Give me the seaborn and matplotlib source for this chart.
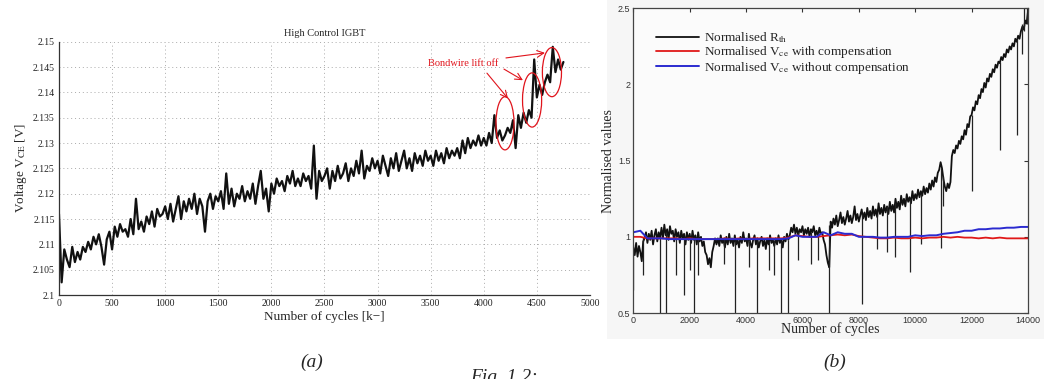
import numpy as np
import pandas as pd
import matplotlib
matplotlib.use("Agg")
import matplotlib.pyplot as plt
from matplotlib.patches import Ellipse, Rectangle
import seaborn as sns

# ---- Panel (a): V_CE of the high control IGBT, one value every 25 k-cycles ----
# values are given in mV above 2.100 V
a_step = 25
a_mv = [
    16.0, 2.5, 9.0, 7.0, 5.5, 9.5, 6.5, 8.5, 7.0, 9.5,
    8.5, 10.5, 9.0, 11.5, 10.0, 12.0, 9.5, 6.0, 11.0, 12.5,
    9.0, 13.5, 11.5, 14.0, 12.5, 13.0, 11.5, 15.0, 12.0, 19.0,
    13.0, 14.5, 12.5, 15.5, 14.0, 16.5, 13.5, 17.0, 15.5, 16.0,
    17.5, 15.0, 18.0, 14.5, 17.0, 19.5, 15.0, 18.5, 16.5, 19.0,
    17.0, 20.0, 16.0, 19.0, 17.5, 12.5, 18.5, 20.0, 17.0, 19.5,
    18.5, 20.5, 17.0, 24.0, 18.0, 21.0, 17.5, 20.0, 19.0, 21.5,
    18.5, 20.5, 19.0, 22.0, 18.0, 21.5, 24.5, 19.0, 21.0, 16.5,
    22.0, 20.0, 23.0, 21.5, 22.5, 20.5, 23.5, 22.0, 24.5, 21.5,
    23.0, 21.5, 24.0, 22.5, 23.5, 21.0, 29.5, 19.0, 24.5, 22.5,
    23.5, 25.0, 21.0, 24.5, 22.5, 25.5, 23.0, 24.0, 26.0, 22.5,
    25.0, 23.5, 26.5, 24.0, 28.5, 23.0, 25.5, 24.5, 27.0, 25.0,
    26.5, 24.0, 27.5, 25.5, 23.5, 27.0, 25.0, 28.0, 24.5, 26.5,
    28.5, 25.0, 27.0, 24.5, 28.0, 26.0, 27.5, 25.5, 28.5, 26.5,
    27.5, 25.5, 28.5, 26.5, 28.0, 26.0, 29.0, 27.0, 28.5, 27.5,
    29.0, 27.0, 30.5, 28.0, 31.0, 29.0, 30.5, 29.5, 31.5, 29.5,
    31.0, 29.5, 32.0, 30.0, 35.5, 31.0, 32.5, 30.5, 31.5, 33.0,
    32.0, 34.5, 29.0, 35.5, 33.0, 36.0, 34.0, 36.5, 35.0, 46.5,
    39.0, 41.5, 39.5, 42.0, 43.5, 42.0, 49.0, 44.0, 46.5, 44.5,
    46.0,
]
a_cycles = np.arange(len(a_mv)) * a_step
a_volts = 2.1 + np.array(a_mv) / 1000.0

# ellipses marking the bondwire lift-off steps: centre x, centre y, width, height
lift_x = [4200, 4455, 4642]
lift_y = [2.1339, 2.1385, 2.1440]
lift_w = [170, 180, 180]
lift_h = [0.0105, 0.0107, 0.0097]

# ---- Panel (b): normalised values, black every 50 cycles ----
b_step = 50
rth = [
    0.93, 0.88, 0.96, 0.87, 0.94, 0.90, 0.84, 0.97, 0.99, 1.03, 0.96, 1.02, 0.98, 1.04, 0.95, 1.01, 1.05, 0.97, 1.03, 0.99,
    1.06, 0.99, 1.08, 1.01, 1.05, 0.98, 1.07, 1.02, 1.04, 0.97, 1.05, 1.00, 1.03, 0.96, 1.04, 0.99, 1.02, 0.95, 1.03, 0.98,
    1.02, 0.96, 1.04, 0.98, 1.01, 0.95, 1.03, 0.97, 1.00, 0.94, 0.97, 0.90, 0.88, 0.82, 0.86, 0.80, 0.90, 0.94, 0.99, 0.95,
    0.99, 0.94, 1.01, 0.96, 0.98, 0.93, 1.00, 0.95, 1.02, 0.96, 0.99, 0.94, 1.01, 0.95, 0.98, 0.93, 1.00, 0.96, 1.03, 0.97,
    0.99, 0.94, 1.02, 0.96, 0.93, 0.98, 1.01, 0.95, 0.99, 0.93, 0.97, 1.00, 0.94, 0.98, 0.92, 0.99, 0.95, 1.01, 0.96, 0.98,
    0.94, 0.99, 0.95, 1.01, 0.96, 0.98, 0.93, 1.00, 0.97, 1.02, 0.98, 1.01, 1.06, 1.03, 1.08, 1.02, 1.06, 1.01, 1.05, 1.03,
    1.07, 1.01, 1.05, 1.02, 1.06, 1.00, 1.05, 1.03, 1.07, 1.01, 1.04, 1.00, 1.06, 1.02, 1.03, 0.98, 0.95, 0.88, 0.83, 0.80,
    1.10, 1.06, 1.12, 1.08, 1.14, 1.07, 1.11, 1.16, 1.09, 1.13, 1.08, 1.12, 1.17, 1.10, 1.14, 1.09, 1.13, 1.20, 1.11, 1.15,
    1.10, 1.14, 1.18, 1.12, 1.16, 1.11, 1.19, 1.13, 1.17, 1.12, 1.20, 1.14, 1.18, 1.13, 1.22, 1.15, 1.19, 1.14, 1.21, 1.16,
    1.20, 1.15, 1.23, 1.17, 1.21, 1.16, 1.25, 1.19, 1.23, 1.18, 1.27, 1.21, 1.25, 1.20, 1.28, 1.23, 1.26, 1.22, 1.30, 1.24,
    1.28, 1.25, 1.31, 1.26, 1.30, 1.27, 1.33, 1.28, 1.32, 1.29, 1.35, 1.31, 1.37, 1.33, 1.39, 1.36, 1.42, 1.44, 1.49, 1.45,
    1.38, 1.33, 1.30, 1.35, 1.32, 1.36, 1.53, 1.57, 1.55, 1.60, 1.58, 1.63, 1.61, 1.66, 1.64, 1.70, 1.67, 1.74, 1.72, 1.79,
    1.80, 1.85, 1.83, 1.89, 1.87, 1.93, 1.91, 1.97, 1.95, 2.01, 1.98, 2.04, 2.02, 2.07, 2.05, 2.10, 2.08, 2.13, 2.11, 2.15,
    2.14, 2.18, 2.16, 2.20, 2.18, 2.23, 2.21, 2.25, 2.23, 2.27, 2.25, 2.30, 2.28, 2.32, 2.30, 2.35, 2.38, 2.36, 2.42, 2.40,
    2.48,
]
rth_cycles = np.arange(len(rth)) * b_step

# single-sample dropouts / spikes in the R_th trace
spike_x = [0, 350, 950, 1150, 1500, 1800, 2000, 2150, 2300, 3200, 3600, 4100, 4400, 4800,
           5000, 5250, 5500, 5850, 6300, 6550, 6950, 8100, 8650, 9000, 9300, 9800, 10200,
           10900, 11000, 12000, 13000, 13600, 13800, 13870, 13950]
spike_low = [0.65, 0.75, 0.50, 0.50, 0.75, 0.62, 0.78, 0.50, 0.75, 0.82, 0.50, 0.80, 0.50, 0.78,
             0.75, 0.50, 0.50, 0.85, 0.82, 0.85, 0.50, 0.56, 0.92, 0.90, 0.87, 0.77, 0.95,
             0.93, 1.20, 1.30, 1.57, 1.67, 2.20, 2.35, 2.40]
spike_high = [0.95, 1.00, 1.00, 1.03, 1.00, 1.00, 1.00, 1.00, 1.00, 1.00, 0.97, 0.97, 0.97, 0.97,
              0.97, 0.97, 0.98, 1.03, 1.03, 1.03, 1.08, 1.15, 1.15, 1.20, 1.22, 1.25, 1.28,
              1.45, 1.40, 1.80, 2.15, 2.30, 2.40, 2.60, 2.60]

# V_ce traces, one value every 250 cycles
vce_step = 250
vce_comp = [
    1.00, 1.00, 0.99, 0.99, 0.99, 0.99, 0.99, 0.985, 0.99, 0.985,
    0.985, 0.985, 0.985, 0.99, 0.985, 0.99, 0.985, 0.99, 0.99, 0.99,
    0.99, 0.99, 0.995, 1.01, 1.005, 1.00, 1.00, 1.005, 1.01, 1.015,
    1.01, 1.015, 1.005, 1.00, 0.995, 0.99, 0.99, 0.995, 0.99, 0.99,
    0.995, 0.99, 0.995, 0.995, 1.00, 0.995, 1.00, 0.995, 0.995, 0.99,
    0.995, 0.99, 0.995, 0.99, 0.99, 0.99, 0.99,
]
vce_nocomp = [
    1.03, 1.04, 0.99, 0.99, 0.99, 0.985, 0.985, 0.985, 0.985, 0.985,
    0.985, 0.985, 0.985, 0.985, 0.985, 0.985, 0.985, 0.985, 0.985, 0.985,
    0.985, 0.985, 0.99, 1.01, 1.00, 1.00, 1.00, 1.03, 1.01, 1.03,
    1.02, 1.02, 1.00, 1.00, 1.00, 0.995, 0.995, 1.00, 1.00, 1.00,
    1.01, 1.005, 1.01, 1.01, 1.02, 1.025, 1.03, 1.04, 1.04, 1.05,
    1.05, 1.055, 1.055, 1.06, 1.06, 1.065, 1.065,
]
vce_cycles = np.arange(len(vce_comp)) * vce_step

df_a = pd.DataFrame({"cycles": a_cycles, "volts": a_volts})
df_rth = pd.DataFrame({"cycles": rth_cycles, "value": rth})
df_vce = pd.DataFrame({"cycles": vce_cycles, "comp": vce_comp, "nocomp": vce_nocomp})

sns.set_theme(style="white")
plt.rcParams["font.family"] = ["Liberation Serif", "DejaVu Serif"]
plt.rcParams["mathtext.fontset"] = "stix"

RED = "#e0141c"
fig = plt.figure(figsize=(10.55, 3.79), dpi=100)

# light grey backdrop of the pasted panel (b), kept behind the axes
fig.patches.append(Rectangle((0.575, 0.105), 0.415, 0.895, transform=fig.transFigure,
                             facecolor="#f6f6f6", edgecolor="none", zorder=-5))

# ---------------- (a) ----------------
ax_a = fig.add_axes([0.0559, 0.2216, 0.5033, 0.6683])
sns.lineplot(data=df_a, x="cycles", y="volts", ax=ax_a, color="#111111", lw=1.6,
             estimator=None, sort=False)
ax_a.set_xlim(0, 5000)
ax_a.set_ylim(2.1, 2.15)
ax_a.set_xticks(np.arange(0, 5001, 500))
ax_a.set_yticks(np.arange(2.1, 2.1501, 0.005))
ax_a.set_yticklabels(["2.1", "2.105", "2.11", "2.115", "2.12", "2.125", "2.13",
                      "2.135", "2.14", "2.145", "2.15"])
ax_a.grid(True, ls=(0, (1, 3)), color="#aaaaaa", lw=0.7)
for s in ["top", "right"]:
    ax_a.spines[s].set_visible(False)
for s in ["left", "bottom"]:
    ax_a.spines[s].set_color("#333333")
    ax_a.spines[s].set_linewidth(0.9)
ax_a.tick_params(direction="in", length=3, width=0.8, labelsize=7, colors="#222222", pad=3)
ax_a.set_xlabel("Number of cycles [k\u2212]", fontsize=9.5, labelpad=2)
ax_a.set_ylabel("Voltage V$_{\\mathrm{CE}}$ [V]", fontsize=9.5, labelpad=3)
ax_a.set_title("High Control IGBT", fontsize=7.5, pad=4)

for cx, cy, w, h in zip(lift_x, lift_y, lift_w, lift_h):
    ax_a.add_patch(Ellipse((cx, cy), w, h, fill=False, ec=RED, lw=0.9, zorder=5))
ax_a.text(3804, 2.1458, "Bondwire lift off", color=RED, fontsize=7.5, ha="center", va="center")
arrow = dict(arrowstyle="->", color=RED, lw=0.8, shrinkA=0, shrinkB=0)
ax_a.annotate("", xy=(4228, 2.1388), xytext=(4030, 2.1438), arrowprops=arrow)
ax_a.annotate("", xy=(4369, 2.1424), xytext=(4190, 2.1446), arrowprops=arrow)
ax_a.annotate("", xy=(4576, 2.1478), xytext=(4209, 2.1468), arrowprops=arrow)

# ---------------- (b) ----------------
ax_b = fig.add_axes([0.6003, 0.1741, 0.3741, 0.804])
ax_b.set_facecolor("#fbfbfb")
sns.lineplot(data=df_rth, x="cycles", y="value", ax=ax_b, color="#111111", lw=1.3,
             estimator=None, sort=False, label="Normalised R$_{\\mathrm{th}}$")
ax_b.vlines(spike_x, spike_low, spike_high, color="#222222", lw=0.9)
sns.lineplot(data=df_vce, x="cycles", y="comp", ax=ax_b, color="#e01818", lw=1.3,
             estimator=None, sort=False, label="Normalised V$_{\\mathrm{ce}}$ with compensation")
sns.lineplot(data=df_vce, x="cycles", y="nocomp", ax=ax_b, color="#2b2bd0", lw=1.4,
             estimator=None, sort=False, label="Normalised V$_{\\mathrm{ce}}$ without compensation")
ax_b.set_xlim(0, 14000)
ax_b.set_ylim(0.5, 2.5)
ax_b.set_xticks(np.arange(0, 14001, 2000))
ax_b.set_yticks([0.5, 1, 1.5, 2, 2.5])
ax_b.set_yticklabels(["0.5", "1", "1.5", "2", "2.5"])
for s in ax_b.spines.values():
    s.set_color("#444444")
    s.set_linewidth(0.9)
ax_b.tick_params(direction="in", length=3, width=0.8, top=True, right=True,
                 labelsize=6.5, colors="#333333", pad=2)
for lab in ax_b.get_xticklabels() + ax_b.get_yticklabels():
    lab.set_fontfamily(["Liberation Sans", "DejaVu Sans"])
ax_b.set_xlabel("Number of cycles", fontsize=10, labelpad=-1.5)
ax_b.set_ylabel("Normalised values", fontsize=10, labelpad=2)
ax_b.legend(loc="upper left", bbox_to_anchor=(0.045, 0.945), frameon=False, fontsize=9.5,
            handlelength=3.2, handletextpad=0.4, labelspacing=-0.05, borderaxespad=0)

# panel captions
fig.text(312 / 1055, 1 - 362 / 379, "(a)", fontsize=14, style="italic", ha="center", va="center")
fig.text(835 / 1055, 1 - 362 / 379, "(b)", fontsize=14, style="italic", ha="center", va="center")
fig.text(470 / 1055, 1 - 369 / 379, "Fig. 1.2:", fontsize=14, style="italic", ha="left", va="top")

fig.savefig("out.png", dpi=100)
